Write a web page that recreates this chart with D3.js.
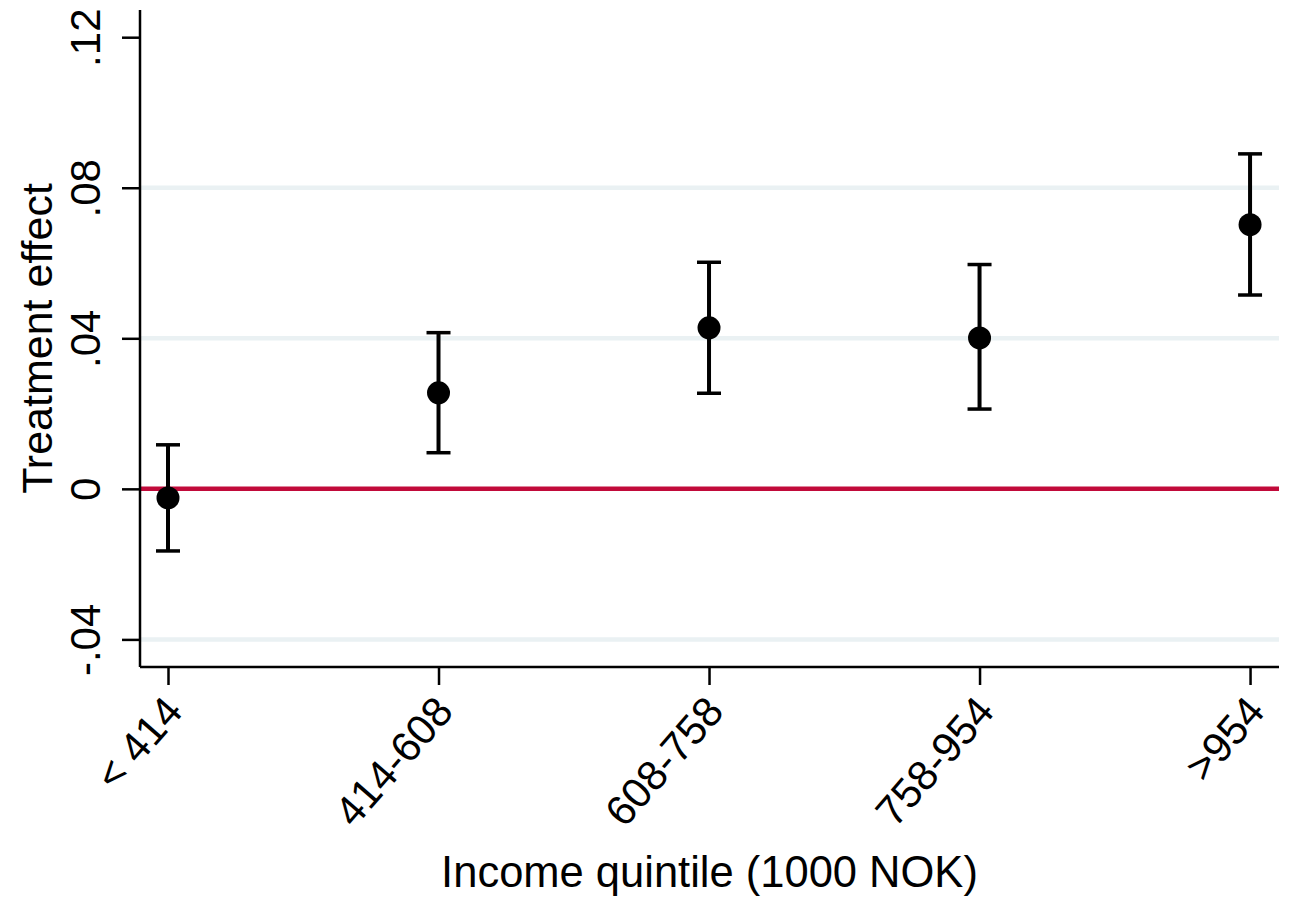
<!DOCTYPE html>
<html>
<head>
<meta charset="utf-8">
<script src="https://cdn.jsdelivr.net/npm/d3@7"></script>
<style>
  html, body { margin: 0; padding: 0; background: #fff; }
  svg { display: block; }
  text { font-family: "Liberation Sans", Arial, sans-serif; fill: #000; }
</style>
</head>
<body>
<svg id="chart" width="1294" height="898"></svg>
<script>
// ---- data ----
const categories = ["< 414", "414-608", "608-758", "758-954", ">954"];
const estimates  = [-0.0024, 0.0255, 0.0428, 0.0401, 0.0702];
const ciLower    = [-0.0165, 0.0096, 0.0254, 0.0212, 0.0515];
const ciUpper    = [0.0117, 0.0415, 0.0602, 0.0596, 0.0890];
const yTicks     = [-0.04, 0, 0.04, 0.08, 0.12];
const yTickLabels = ["-.04", "0", ".04", ".08", ".12"];
const gridValues = [-0.04, 0.04, 0.08];
const refValue = 0;
const xTitle = "Income quintile (1000 NOK)";
const yTitle = "Treatment effect";

// ---- layout ----
const L = 140, R = 1279, T = 10, B = 667;
const svg = d3.select("#chart");

const x = d3.scaleLinear().domain([-0.1035, 4.107]).range([L, R]);
const y = d3.scaleLinear().domain([-0.04, 0.04]).range([639.4, 338.3]);
y.domain([y.invert(B), y.invert(T)]).range([B, T]);

// gridlines
svg.append("g").selectAll("line").data(gridValues).join("line")
  .attr("x1", L).attr("x2", R)
  .attr("y1", d => y(d)).attr("y2", d => y(d))
  .attr("stroke", "#eaf1f3").attr("stroke-width", 4.5);

// reference line at zero
svg.append("line")
  .attr("x1", L).attr("x2", R)
  .attr("y1", y(refValue)).attr("y2", y(refValue))
  .attr("stroke", "#c10a3a").attr("stroke-width", 4.5);

// y axis
const yAxis = d3.axisLeft(y).tickValues(yTicks)
  .tickFormat((d, i) => yTickLabels[i]).tickSize(18).tickSizeOuter(0);
const gy = svg.append("g").attr("transform", `translate(${L},0)`).call(yAxis);
gy.select(".domain").attr("stroke", "#000").attr("stroke-width", 2.5);
gy.selectAll(".tick line").attr("stroke", "#000").attr("stroke-width", 2.5);
gy.selectAll(".tick text")
  .attr("font-size", 42)
  .attr("text-anchor", "middle")
  .attr("x", null).attr("dy", null)
  .attr("transform", "translate(-40,0) rotate(-90)")
  .attr("y", 0);

// x axis
const xAxis = d3.axisBottom(x).tickValues(d3.range(categories.length))
  .tickFormat(i => categories[i]).tickSize(18).tickSizeOuter(0);
const gx = svg.append("g").attr("transform", `translate(0,${B})`).call(xAxis);
gx.select(".domain").attr("stroke", "#000").attr("stroke-width", 2.5);
gx.selectAll(".tick line").attr("stroke", "#000").attr("stroke-width", 2.5);
gx.selectAll(".tick text")
  .attr("font-size", 42)
  .attr("text-anchor", "end")
  .attr("y", null).attr("dy", "0.35em")
  .attr("transform", "translate(5,36) rotate(-49)");

gy.select(".domain").attr("d", `M0,${T}V${B}`);
gx.select(".domain").attr("d", `M${L},0H${R}`);

// error bars
const capHalf = 12;
const bars = svg.append("g").selectAll("g").data(categories).join("g");
bars.append("line")
  .attr("x1", (d, i) => x(i)).attr("x2", (d, i) => x(i))
  .attr("y1", (d, i) => y(ciLower[i])).attr("y2", (d, i) => y(ciUpper[i]))
  .attr("stroke", "#000").attr("stroke-width", 4);
bars.append("line")
  .attr("x1", (d, i) => x(i) - capHalf).attr("x2", (d, i) => x(i) + capHalf)
  .attr("y1", (d, i) => y(ciUpper[i])).attr("y2", (d, i) => y(ciUpper[i]))
  .attr("stroke", "#000").attr("stroke-width", 3.5);
bars.append("line")
  .attr("x1", (d, i) => x(i) - capHalf).attr("x2", (d, i) => x(i) + capHalf)
  .attr("y1", (d, i) => y(ciLower[i])).attr("y2", (d, i) => y(ciLower[i]))
  .attr("stroke", "#000").attr("stroke-width", 3.5);
bars.append("circle")
  .attr("cx", (d, i) => x(i)).attr("cy", (d, i) => y(estimates[i]))
  .attr("r", 11.5).attr("fill", "#000");

// titles
svg.append("text")
  .attr("x", (L + R) / 2).attr("y", 887)
  .attr("text-anchor", "middle").attr("font-size", 43.5)
  .text(xTitle);
svg.append("text")
  .attr("transform", `translate(52,${(T + B) / 2}) rotate(-90)`)
  .attr("text-anchor", "middle").attr("font-size", 43)
  .text(yTitle);
</script>
</body>
</html>
